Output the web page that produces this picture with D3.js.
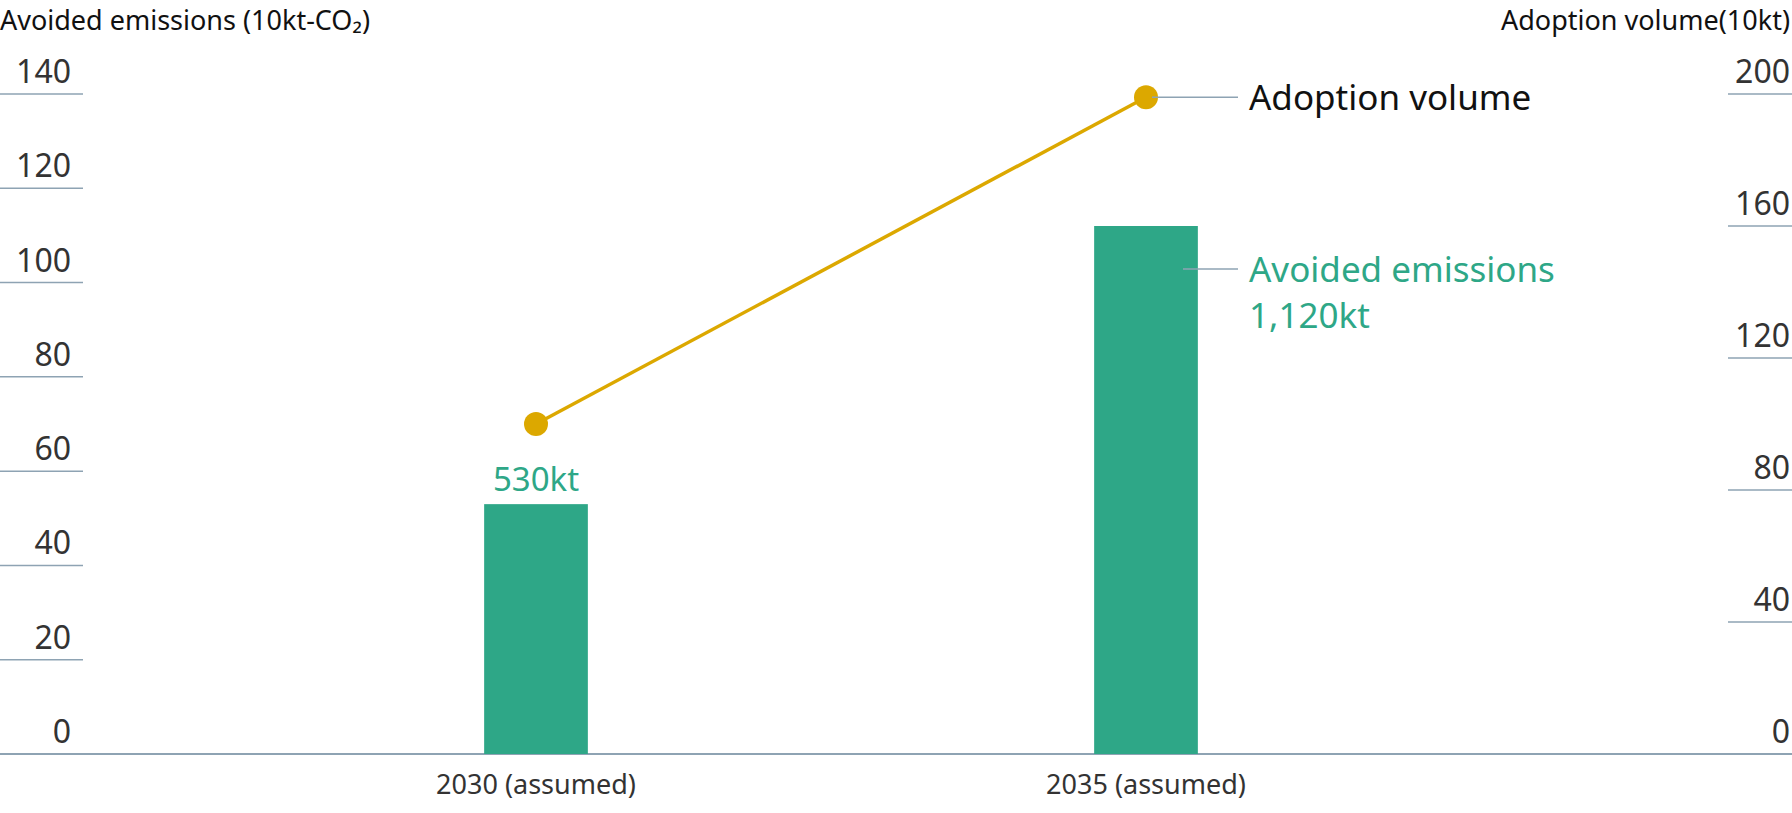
<!DOCTYPE html>
<html><head><meta charset="utf-8">
<script src="https://cdn.jsdelivr.net/npm/d3@7"></script>
<style>body{margin:0;background:#fff}text{font-family:"Noto Sans",sans-serif}</style>
</head><body><svg id="c" width="1792" height="813"></svg>
<script>
const categories = ["2030 (assumed)", "2035 (assumed)"];
const avoided = [53, 112];
const adoption = [100, 199];
const barLabels = ["530kt", null];
const leftTicks = [0, 20, 40, 60, 80, 100, 120, 140];
const rightTicks = [0, 40, 80, 120, 160, 200];

const svg = d3.select("#c");
const green = "#2ea787", gold = "#dca800", grid = "#8ea3b3", txt = "#333";
const x = d3.scaleBand().domain(categories).range([231, 1451]).paddingInner(0.83).paddingOuter(0.415);
const yL = d3.scaleLinear().domain([0, 140]).range([754, 94]);
const yR = d3.scaleLinear().domain([0, 200]).range([754, 94]);

// left ticks
leftTicks.forEach(t => {
  if (t > 0) svg.append("line").attr("x1", 0).attr("x2", 83).attr("y1", yL(t)).attr("y2", yL(t)).attr("stroke", grid).attr("stroke-width", 1.5);
  svg.append("text").attr("x", 71).attr("y", yL(t) - 11).attr("text-anchor", "end").attr("font-size", 32).attr("fill", txt).text(t);
});
rightTicks.forEach(t => {
  if (t > 0) svg.append("line").attr("x1", 1728).attr("x2", 1792).attr("y1", yR(t)).attr("y2", yR(t)).attr("stroke", grid).attr("stroke-width", 1.5);
  svg.append("text").attr("x", 1790).attr("y", yR(t) - 11).attr("text-anchor", "end").attr("font-size", 32).attr("fill", txt).text(t);
});
svg.append("line").attr("x1", 0).attr("x2", 1792).attr("y1", 754).attr("y2", 754).attr("stroke", grid).attr("stroke-width", 2);

svg.append("text").attr("x", 0).attr("y", 30).attr("font-size", 27).attr("fill", "#111").text("Avoided emissions (10kt-CO₂)");
svg.append("text").attr("x", 1790).attr("y", 30).attr("text-anchor", "end").attr("font-size", 27).attr("fill", "#111").text("Adoption volume(10kt)");

// bars
svg.selectAll("rect.bar").data(categories).enter().append("rect")
  .attr("x", d => x(d)).attr("width", x.bandwidth())
  .attr("y", (d, i) => yL(avoided[i])).attr("height", (d, i) => 754 - yL(avoided[i]))
  .attr("fill", green);
categories.forEach((c, i) => {
  svg.append("text").attr("x", x(c) + x.bandwidth() / 2).attr("y", 794).attr("text-anchor", "middle").attr("font-size", 27).attr("fill", txt).text(c);
  if (barLabels[i]) svg.append("text").attr("x", x(c) + x.bandwidth() / 2).attr("y", yL(avoided[i]) - 13).attr("text-anchor", "middle").attr("font-size", 33).attr("fill", green).text(barLabels[i]);
});

// line
const cx = i => x(categories[i]) + x.bandwidth() / 2;
svg.append("line").attr("x1", cx(0)).attr("y1", yR(adoption[0])).attr("x2", cx(1)).attr("y2", yR(adoption[1])).attr("stroke", gold).attr("stroke-width", 3.5);
adoption.forEach((v, i) => svg.append("circle").attr("cx", cx(i)).attr("cy", yR(v)).attr("r", 12).attr("fill", gold));

// annotations
svg.append("line").attr("x1", cx(1) + 6).attr("x2", 1238).attr("y1", yR(adoption[1])).attr("y2", yR(adoption[1])).attr("stroke", grid).attr("stroke-width", 1.5);
svg.append("text").attr("x", 1249).attr("y", yR(adoption[1]) + 13).attr("font-size", 35).attr("fill", "#111").text("Adoption volume");
svg.append("line").attr("x1", 1183).attr("x2", 1238).attr("y1", 269).attr("y2", 269).attr("stroke", grid).attr("stroke-width", 1.5);
svg.append("text").attr("x", 1249).attr("y", 282).attr("font-size", 35).attr("fill", green).text("Avoided emissions");
svg.append("text").attr("x", 1249).attr("y", 328).attr("font-size", 35).attr("fill", green).text("1,120kt");
</script></body></html>
